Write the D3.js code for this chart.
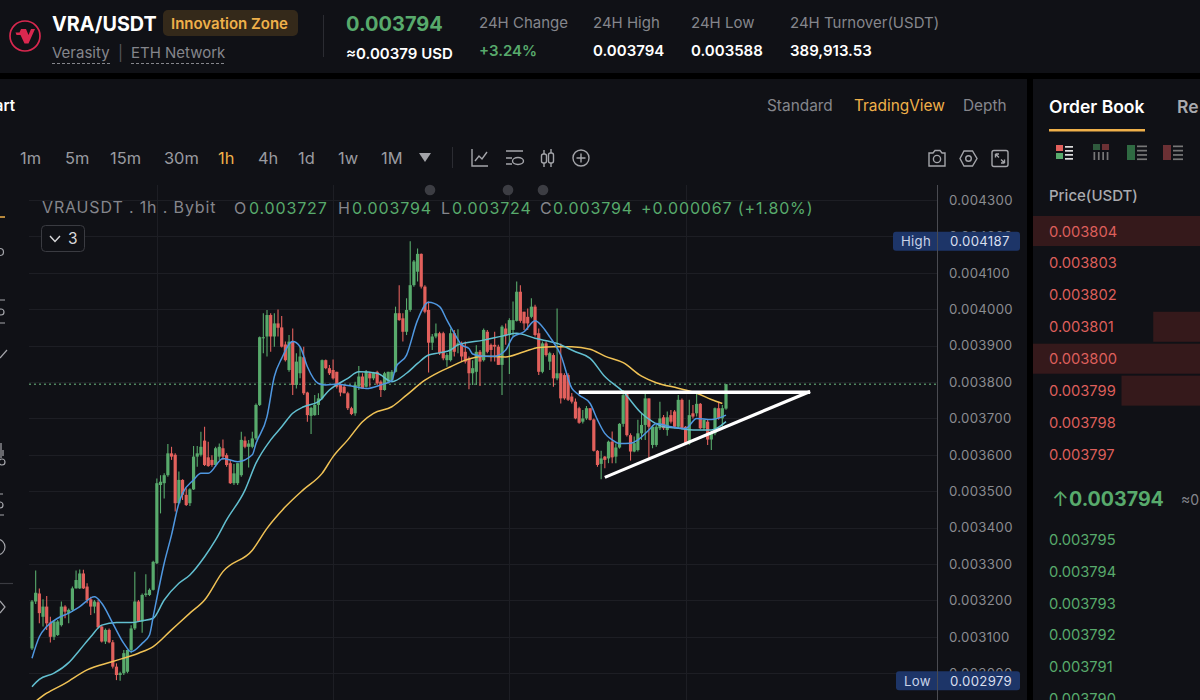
<!DOCTYPE html>
<html>
<head>
<meta charset="utf-8">
<title>VRA/USDT</title>
<script src="https://cdn.jsdelivr.net/npm/d3@7"></script>
<style>
  html, body { margin: 0; padding: 0; background: #000; overflow: hidden; }
  svg { display: block; font-family: Inter, "Noto Sans", sans-serif; }
</style>
</head>
<body>
<svg id="screen" width="1200" height="700"></svg>
<script>
// Hourly candles, prices in millionths of a USDT.
const opens = [
  3068,3197,3219,3155,3183,3139,3100,3105,3132,3183,
  3165,3174,3233,3233,3274,3238,3203,3183,3195,3128,
  3087,3119,3085,3018,2995,3000,3004,3064,3123,3197,
  3142,3215,3215,3229,3302,3517,3522,3544,3604,3600,
  3467,3531,3490,3467,3505,3595,3600,3639,3593,3586,
  3572,3595,3618,3599,3577,3522,3522,3544,3639,3622,
  3622,3645,3737,3920,3925,3984,3925,3961,3950,3903,
  3833,3913,3792,3824,3868,3771,3707,3709,3737,3755,
  3860,3838,3833,3828,3792,3787,3769,3728,3714,3787,
  3815,3787,3824,3810,3828,3801,3778,3801,3805,3828,
  3989,3975,3938,3998,4066,4103,4152,4062,3998,3908,
  3925,3934,3934,3860,3860,3934,3901,3906,3883,3865,
  3824,3828,3883,3860,3938,3902,3902,3897,3847,3947,
  3929,3943,3968,4048,3993,3979,3979,4007,3934,3828,
  3906,3856,3874,3810,3824,3819,3819,3760,3746,3728,
  3691,3700,3728,3697,3611,3575,3595,3590,3636,3595,
  3620,3685,3769,3654,3609,3613,3659,3682,3755,3627,
  3627,3673,3703,3668,3709,3719,3677,3751,3677,3631,
  3714,3714,3740,3673,3691,3642,3659,3728,3700,3727
];
const highs = [
  3201,3282,3233,3203,3212,3155,3146,3146,3197,3187,
  3178,3238,3282,3285,3284,3247,3210,3201,3201,3132,
  3123,3123,3091,3027,3004,3064,3064,3132,3279,3201,
  3219,3272,3233,3309,3535,3544,3549,3630,3622,3604,
  3554,3533,3508,3508,3624,3624,3663,3677,3636,3599,
  3622,3631,3642,3604,3586,3575,3577,3663,3650,3641,
  3663,3741,3925,3989,3998,3989,3989,3999,3981,3911,
  3929,3947,3879,3897,3897,3773,3732,3764,3769,3862,
  3862,3847,3862,3828,3796,3792,3773,3732,3801,3844,
  3824,3833,3828,3828,3831,3805,3828,3828,3833,4007,
  4066,3989,4030,4187,4135,4167,4153,4066,4021,3932,
  3961,3938,3938,3879,3947,3943,3945,3911,3911,3870,
  3860,3901,3888,3947,3943,3906,3938,3902,3956,3961,
  3975,4021,4076,4066,3993,4002,4030,4012,3947,3911,
  3911,3883,3879,4002,3906,3824,3824,3770,3755,3732,
  3723,3734,3728,3700,3613,3611,3597,3639,3664,3631,
  3687,3778,3775,3659,3650,3696,3714,3769,3755,3682,
  3682,3746,3709,3719,3723,3723,3764,3755,3679,3751,
  3737,3769,3742,3697,3696,3664,3730,3746,3737,3794
];
const lows = [
  3064,3190,3137,3128,3119,3084,3091,3102,3128,3151,
  3137,3169,3233,3231,3231,3192,3160,3165,3123,3084,
  3080,3082,3013,2981,2979,2995,3000,3055,3119,3142,
  3111,3210,3212,3227,3300,3439,3480,3540,3586,3444,
  3467,3476,3459,3459,3503,3567,3595,3569,3567,3567,
  3567,3586,3586,3567,3520,3517,3517,3540,3618,3565,
  3618,3641,3734,3879,3870,3883,3897,3925,3895,3856,
  3828,3764,3782,3810,3764,3691,3657,3707,3709,3751,
  3835,3819,3807,3782,3761,3769,3723,3709,3707,3778,
  3782,3785,3787,3805,3792,3759,3776,3796,3801,3826,
  3968,3911,3929,3993,4062,4076,4057,3989,3826,3888,
  3920,3874,3860,3842,3856,3870,3879,3856,3851,3780,
  3792,3792,3789,3856,3879,3856,3856,3847,3764,3902,
  3822,3925,3966,3963,3943,3943,3975,3925,3819,3824,
  3870,3833,3787,3805,3741,3751,3748,3741,3698,3685,
  3686,3696,3694,3609,3567,3533,3563,3577,3577,3577,
  3617,3677,3650,3584,3607,3609,3641,3641,3590,3618,
  3622,3668,3668,3652,3686,3673,3673,3670,3627,3627,
  3700,3705,3670,3668,3627,3613,3654,3696,3677,3724
];
const closes = [
  3197,3221,3165,3183,3137,3100,3142,3142,3183,3169,
  3174,3233,3256,3274,3233,3201,3183,3197,3126,3087,
  3119,3085,3018,2995,3000,3055,3064,3123,3197,3142,
  3215,3219,3229,3306,3522,3526,3544,3604,3595,3467,
  3531,3490,3462,3505,3595,3604,3622,3572,3569,3572,
  3618,3622,3595,3572,3522,3549,3577,3641,3622,3631,
  3645,3737,3923,3923,3984,3925,3961,3949,3897,3860,
  3911,3792,3856,3870,3769,3709,3729,3737,3755,3860,
  3838,3824,3810,3787,3771,3769,3728,3712,3792,3815,
  3782,3828,3810,3826,3796,3778,3824,3828,3828,3989,
  3970,3938,3998,4066,4131,4152,4062,3993,3908,3925,
  3934,3879,3865,3874,3934,3883,3906,3870,3856,3824,
  3838,3883,3856,3943,3883,3888,3897,3847,3952,3929,
  3970,3970,4048,3968,3961,3961,4007,3929,3828,3906,
  3874,3879,3810,3824,3755,3755,3751,3746,3700,3688,
  3700,3728,3696,3611,3572,3590,3586,3636,3593,3620,
  3685,3764,3654,3609,3632,3659,3682,3755,3677,3677,
  3677,3700,3673,3703,3691,3677,3751,3673,3630,3709,
  3705,3740,3673,3696,3642,3659,3728,3700,3728,3794
];

// Moving averages, sampled by candle number.
const fastAt = [0,2,4,7,10,13,17,19,22,25,27,30,32,33,36,38,40,41,44,46,48,52,56,60,61,64,66,68,71,73,75,78,80,83,87,91,95,98,99,102,105,108,111,113,115,117,119,120,123,126,129,131,134,137,139,141,144,147,149,152,154,156,158,160,163,165,168,170,174,178,181,185,189];
const fastMa = [3041,3100,3128,3151,3165,3183,3210,3192,3137,3082,3059,3082,3105,3155,3302,3380,3467,3494,3531,3549,3549,3590,3581,3600,3631,3705,3815,3865,3911,3897,3842,3796,3792,3794,3789,3782,3792,3804,3838,3874,3970,4019,4007,3970,3934,3902,3892,3877,3871,3871,3888,3924,3938,3968,3952,3924,3874,3783,3764,3741,3696,3659,3641,3631,3632,3641,3668,3686,3677,3672,3700,3697,3709];
const midAt = [0,2,6,10,13,16,19,23,27,30,33,36,40,43,47,50,53,58,61,65,68,71,74,78,81,86,89,94,98,102,105,108,111,114,116,123,128,132,137,143,148,152,156,161,166,169,172,176,180,185,189];
const midMa = [2963,2983,3000,3029,3064,3100,3132,3139,3139,3144,3151,3201,3247,3270,3320,3366,3421,3503,3577,3641,3677,3714,3732,3746,3778,3810,3828,3824,3801,3824,3851,3874,3880,3888,3902,3915,3926,3934,3920,3906,3883,3865,3815,3773,3714,3691,3677,3673,3668,3668,3691];
const slowAt = [0,4,9,15,22,29,33,38,43,47,52,60,64,69,74,79,82,86,90,93,98,102,107,111,114,118,123,129,134,138,142,147,152,156,161,166,170,176,181,185,188];
const slowMa = [2915,2945,2972,3009,3032,3055,3073,3119,3165,3201,3279,3338,3398,3457,3505,3549,3595,3641,3691,3714,3732,3764,3805,3828,3842,3860,3871,3869,3883,3895,3897,3897,3890,3871,3853,3816,3798,3783,3769,3752,3741];

const priceTicks = [4300,4200,4100,4000,3900,3800,3700,3600,3500,3400,3300,3200,3100,3000];
const timeGrid = [34,82,130,178];
const lastPrice = 3794, sessionHigh = 4187, sessionLow = 2979;

// Triangle drawn by hand over the chart: [candle, price] end points.
const resistanceAt = [148.9,211.9], resistancePrice = [3772,3772];
const supportAt = [156,211.9], supportPrice = [3538,3774];

const intervals = ["1m","5m","15m","30m","1h","4h","1d","1w","1M"];
const intervalX = [20,65,110,164,218,258,298,338,381];
const askPrices = ["0.003804","0.003803","0.003802","0.003801","0.003800","0.003799","0.003798","0.003797"];
const askDepth = [1,0,0,0.28,1,0.47,0,0];
const bidPrices = ["0.003795","0.003794","0.003793","0.003792","0.003791","0.003790"];

const GREEN = "#58aa6c", RED = "#e2605c", ORANGE = "#efb04a", PANEL = "#101116",
      TEXT_DIM = "#85868c", GRID = "#1d1e24";

const svg = d3.select("#screen");

function label(parent, x, y, str, opts) {
  const o = opts || {};
  return parent.append("text").attr("x", x).attr("y", y).text(str)
    .attr("fill", o.fill || "#fff")
    .attr("font-size", o.size || 15)
    .attr("font-weight", o.weight || 400)
    .attr("text-anchor", o.anchor || "start")
    .attr("letter-spacing", o.spacing || 0);
}

// Panels
svg.append("rect").attr("width",1200).attr("height",700).attr("fill","#000");
svg.append("rect").attr("width",1200).attr("height",73).attr("fill",PANEL);
svg.append("rect").attr("y",79).attr("width",1027).attr("height",621).attr("fill",PANEL);
svg.append("rect").attr("x",1033).attr("y",79).attr("width",167).attr("height",621).attr("fill",PANEL);

// Ticker header
const head = svg.append("g");
head.append("circle").attr("cx",25).attr("cy",36).attr("r",15).attr("fill","none").attr("stroke","#d9284f").attr("stroke-width",1.7);
head.append("path").attr("d","M21 29 H35 L28.5 43.5 H24.5 L20.5 35 H16.5 L15.5 32.5 H19.5 Z").attr("fill","#d9284f");
head.append("path").attr("d","M26 29 L28.5 35 L31 29 Z").attr("fill",PANEL);
label(head,52,31,"VRA/USDT",{size:19.8,weight:700});
head.append("rect").attr("x",163).attr("y",10).attr("width",135).attr("height",26).attr("rx",5).attr("fill","#34291a");
label(head,171,29,"Innovation Zone",{size:15,weight:600,fill:ORANGE});
label(head,52,58,"Verasity",{size:15,fill:TEXT_DIM});
label(head,118,58,"|",{size:15,fill:"#55565c"});
label(head,131,58,"ETH Network",{size:15,fill:TEXT_DIM});
[[52,110],[131,225]].forEach(function(seg){
  head.append("line").attr("x1",seg[0]).attr("x2",seg[1]).attr("y1",63.5).attr("y2",63.5)
    .attr("stroke",TEXT_DIM).attr("stroke-dasharray","3 2");
});
head.append("line").attr("x1",323.5).attr("x2",323.5).attr("y1",15).attr("y2",57).attr("stroke","#2b2c32");
label(head,346,31,"0.003794",{size:20,weight:700,fill:GREEN});
label(head,346,59,"≈0.00379 USD",{size:15,weight:600});
const stats = [[479,"24H Change","+3.24%",GREEN,28,56],[593,"24H High","0.003794","#fff",28,55.5],
               [691,"24H Low","0.003588","#fff",28,55.5],[790,"24H Turnover(USDT)","389,913.53","#fff",28,55.5]];
stats.forEach(function(s){
  label(head,s[0],s[4],s[1],{size:15,fill:TEXT_DIM});
  label(head,s[0],s[5],s[2],{size:15,weight:600,fill:s[3]});
});

// Chart tabs and interval bar
const bar = svg.append("g");
label(bar,15,111,"Chart",{size:15,weight:600,anchor:"end"});
label(bar,767,111,"Standard",{size:15.4,fill:TEXT_DIM});
label(bar,854,111,"TradingView",{size:15.4,fill:ORANGE});
label(bar,963,111,"Depth",{size:15.4,fill:TEXT_DIM});
intervals.forEach(function(t,i){
  label(bar,intervalX[i],164,t,{size:16.4,fill:t==="1h"?ORANGE:"#9a9ba0"});
});
bar.append("path").attr("d","M419 153 H431 L425 162 Z").attr("fill","#a2a3a8");
bar.append("line").attr("x1",452.5).attr("x2",452.5).attr("y1",147).attr("y2",168).attr("stroke","#2b2c32");
const ICON = "#a4a5aa";
const icons = bar.append("g").attr("fill","none").attr("stroke",ICON).attr("stroke-width",1.4);
icons.append("path").attr("d","M472 149 V166 H488 M475 161 L479 156 L482 159 L487 152");
icons.append("path").attr("d","M506 151 H523 M506 158 H512 M506 164 H512");
icons.append("ellipse").attr("cx",518).attr("cy",161).attr("rx",5.5).attr("ry",3.5);
icons.append("path").attr("d","M544 150 V154 M544 163 V167 M551 149 V153 M551 163 V167");
icons.append("rect").attr("x",541.5).attr("y",154).attr("width",5).attr("height",9).attr("rx",2);
icons.append("rect").attr("x",548.5).attr("y",153).attr("width",5).attr("height",10).attr("rx",2);
icons.append("circle").attr("cx",581).attr("cy",158).attr("r",8);
icons.append("path").attr("d","M581 153.5 V162.5 M576.5 158 H585.5");
icons.append("path").attr("d","M929 153 H933 L935 150.5 H940 L942 153 H945 V166 H929 Z");
icons.append("circle").attr("cx",937).attr("cy",159).attr("r",3.6);
icons.append("path").attr("d","M960 158.5 L964 151 H972.5 L977 158.5 L972.5 166 H964 Z");
icons.append("circle").attr("cx",968.5).attr("cy",158.5).attr("r",2.8);
icons.append("rect").attr("x",992).attr("y",150.5).attr("width",16).attr("height",16).attr("rx",2);
icons.append("path").attr("d","M995.5 154 H999 M995.5 154 V157.5 M995.5 154 L999 157.5 M1004.5 163 H1001 M1004.5 163 V159.5 M1004.5 163 L1001 159.5");

// Fragments of the drawing toolbar along the left edge
const tools = svg.append("g").attr("fill","none").attr("stroke","#a4a5aa").attr("stroke-width",1.2);
tools.append("line").attr("x1",0).attr("x2",5).attr("y1",217).attr("y2",217).attr("stroke",ORANGE).attr("stroke-width",1.5);
tools.append("circle").attr("cx",0).attr("cy",252).attr("r",3.5);
tools.append("path").attr("d","M0 300 H5 M0 323 H5");
tools.append("circle").attr("cx",1).attr("cy",312).attr("r",3);
tools.append("path").attr("d","M0 358 L7 350");
tools.append("circle").attr("cx",2).attr("cy",462).attr("r",3);
tools.append("path").attr("d","M1 443 V458 M3 450 V456");
tools.append("path").attr("d","M0 494 H3 M0 515 H4");
tools.append("circle").attr("cx",0).attr("cy",505).attr("r",3);
tools.append("circle").attr("cx",-3).attr("cy",547).attr("r",8);
tools.append("line").attr("x1",0).attr("x2",13).attr("y1",583.5).attr("y2",583.5).attr("stroke","#3a3b41");
tools.append("path").attr("d","M0 601 L5 607 L0 613");

// Scales
const x = d3.scaleLinear().domain([0,189]).range([32,726]);
const y = d3.scaleLinear().domain([2900,4300]).range([709.6,200]);

const plotLeft = 29, axisX = 937;
svg.append("defs").append("clipPath").attr("id","plot")
  .append("rect").attr("x",plotLeft).attr("y",185).attr("width",axisX-plotLeft).attr("height",515);

// Grid
const grid = svg.append("g").attr("stroke",GRID);
grid.selectAll("line.h").data(priceTicks).join("line").attr("class","h")
  .attr("x1",plotLeft).attr("x2",axisX).attr("y1",function(d){return Math.round(y(d))+0.5;}).attr("y2",function(d){return Math.round(y(d))+0.5;});
grid.selectAll("line.v").data(timeGrid).join("line").attr("class","v")
  .attr("x1",function(d){return Math.round(x(d))+0.5;}).attr("x2",function(d){return Math.round(x(d))+0.5;}).attr("y1",185).attr("y2",700);

// Last price guide
svg.append("line").attr("x1",plotLeft).attr("x2",axisX).attr("y1",y(lastPrice)).attr("y2",y(lastPrice))
  .attr("stroke","#6fbf85").attr("stroke-width",1).attr("stroke-dasharray","2 3");

// Candles
const plot = svg.append("g").attr("clip-path","url(#plot)");
const candleIdx = d3.range(opens.length);
const tone = function(i){ return closes[i] >= opens[i] ? GREEN : RED; };
plot.append("g").selectAll("line").data(candleIdx).join("line")
  .attr("x1",function(i){return x(i);}).attr("x2",function(i){return x(i);})
  .attr("y1",function(i){return y(highs[i]);}).attr("y2",function(i){return y(lows[i]);})
  .attr("stroke",tone).attr("stroke-width",1.1);
plot.append("g").selectAll("rect").data(candleIdx).join("rect")
  .attr("x",function(i){return x(i)-1.6;}).attr("width",3.2)
  .attr("y",function(i){return y(Math.max(opens[i],closes[i]));})
  .attr("height",function(i){return Math.max(1,Math.abs(y(opens[i])-y(closes[i])));})
  .attr("fill",tone);

// Moving averages
function maLine(at, vals, colour) {
  const path = d3.line().x(function(d){return x(d[0]);}).y(function(d){return y(d[1]);}).curve(d3.curveMonotoneX);
  plot.append("path").datum(d3.zip(at, vals)).attr("d",path)
    .attr("fill","none").attr("stroke",colour).attr("stroke-width",1.5);
}
maLine(slowAt, slowMa, "#f0c255");
maLine(midAt, midMa, "#62bfd0");
maLine(fastAt, fastMa, "#4f97e0");

// Hand-drawn triangle
const stroke = d3.line().x(function(d){return x(d[0]);}).y(function(d){return y(d[1]);});
svg.append("path").datum(d3.zip(resistanceAt,resistancePrice)).attr("d",stroke)
  .attr("stroke","#fff").attr("stroke-width",3.4).attr("fill","none");
svg.append("path").datum(d3.zip(supportAt,supportPrice)).attr("d",stroke)
  .attr("stroke","#fff").attr("stroke-width",3.2).attr("fill","none");

// Price axis
const fmt = function(d){ return (d/1e6).toFixed(6); };
const axis = svg.append("g").attr("transform","translate("+axisX+",0)")
  .call(d3.axisRight(y).tickValues(priceTicks).tickSize(0).tickPadding(12).tickFormat(fmt));
axis.select(".domain").remove();
axis.selectAll("text").attr("fill","#8b8c91").attr("font-size",13.2).attr("font-family","Inter, sans-serif").attr("letter-spacing",0.3);

// High / low badges
[["High",sessionHigh,893,901],["Low",sessionLow,896,904]].forEach(function(b){
  const cy = y(b[1]);
  svg.append("rect").attr("x",b[2]).attr("y",cy-9.5).attr("width",1020-b[2]).attr("height",19).attr("rx",3).attr("fill","#1d3568");
  label(svg,b[3],cy+4.8,b[0],{size:13.2,fill:"#c9d3e8",spacing:0.3});
  label(svg,950,cy+4.8,fmt(b[1]),{size:13.2,fill:"#d9dfee",spacing:0.3});
});
svg.append("line").attr("x1",axisX+0.5).attr("x2",axisX+0.5).attr("y1",185).attr("y2",700).attr("stroke","#4a4b51");

// Dots above the legend
[430,508,543].forEach(function(cx){
  svg.append("circle").attr("cx",cx).attr("cy",190).attr("r",5.3).attr("fill","#3c3d43");
});

// OHLC legend
const legend = svg.append("g");
label(legend,42,213,"VRAUSDT . 1h . Bybit",{size:16,fill:"#85868c",spacing:0.85});
[[234,"O",249,"0.003727"],[338,"H",352,"0.003794"],[441,"L",452,"0.003724"],[540,"C",553,"0.003794"]].forEach(function(e){
  label(legend,e[0],214,e[1],{size:16,fill:"#85868c",spacing:0.85});
  label(legend,e[2],214,e[3],{size:16,fill:GREEN,spacing:0.85});
});
label(legend,641,214,"+0.000067 (+1.80%)",{size:16,fill:GREEN,spacing:0.85});
legend.append("rect").attr("x",41.5).attr("y",225.5).attr("width",43).attr("height",26).attr("rx",4).attr("fill",PANEL).attr("stroke","#3a3b41");
legend.append("path").attr("d","M50 236 L55 241.5 L60 236").attr("fill","none").attr("stroke","#d8d8da").attr("stroke-width",1.4);
label(legend,68,244,"3",{size:15.5,fill:"#d8d8da"});

// Order book
const book = svg.append("g");
label(book,1049,113,"Order Book",{size:17.5,weight:600});
book.append("rect").attr("x",1049).attr("y",129).attr("width",96).attr("height",2.5).attr("fill",ORANGE);
label(book,1177,113,"Re",{size:17.5,weight:600,fill:"#a9aaae"});

// Book layout switches
const sw = book.append("g");
sw.append("rect").attr("x",1056).attr("y",145).attr("width",7).attr("height",6).attr("fill",RED);
sw.append("rect").attr("x",1056).attr("y",153).attr("width",7).attr("height",6).attr("fill",GREEN);
d3.range(4).forEach(function(k){
  sw.append("rect").attr("x",1065).attr("y",146+k*4).attr("width",8).attr("height",1.7).attr("fill","#ddd");
});
sw.append("rect").attr("x",1093).attr("y",144).attr("width",7).attr("height",6).attr("fill","#2f5a3d");
sw.append("rect").attr("x",1102).attr("y",144).attr("width",7).attr("height",6).attr("fill","#6b3034");
d3.range(4).forEach(function(k){
  sw.append("rect").attr("x",1093.5+k*4.4).attr("y",152).attr("width",1.7).attr("height",8).attr("fill","#777");
});
[[1127,"#2f6a42"],[1163,"#6b3034"]].forEach(function(s){
  sw.append("rect").attr("x",s[0]).attr("y",145).attr("width",8).attr("height",15).attr("fill",s[1]);
  d3.range(4).forEach(function(k){
    sw.append("rect").attr("x",s[0]+10).attr("y",145.5+k*4.3).attr("width",10).attr("height",1.7).attr("fill","#777");
  });
});
label(book,1049,201,"Price(USDT)",{size:15,weight:500,fill:"#a9aaae"});

const rowY = d3.scaleLinear().domain([0,7]).range([231,454.5]);
const depthX = d3.scaleLinear().domain([0,1]).range([0,167]);
book.selectAll("rect.depth").data(askDepth).join("rect").attr("class","depth")
  .attr("x",function(d){return 1200-depthX(d);}).attr("width",function(d){return depthX(d);})
  .attr("y",function(d,i){return rowY(i)-15;}).attr("height",30).attr("fill","#35191b");
askPrices.forEach(function(p,i){ label(book,1049,rowY(i)+5.5,p,{size:14.7,fill:"#dd5f5b"}); });
label(book,1052,506,"↑",{size:20,fill:GREEN,weight:400});
label(book,1069,506,"0.003794",{size:19.6,weight:700,fill:GREEN});
label(book,1181,505,"≈0",{size:14,fill:TEXT_DIM});
const bidY = d3.scaleLinear().domain([0,5]).range([545,704]);
bidPrices.forEach(function(p,i){ label(book,1049,bidY(i),p,{size:14.7,fill:GREEN}); });
</script>
</body>
</html>
